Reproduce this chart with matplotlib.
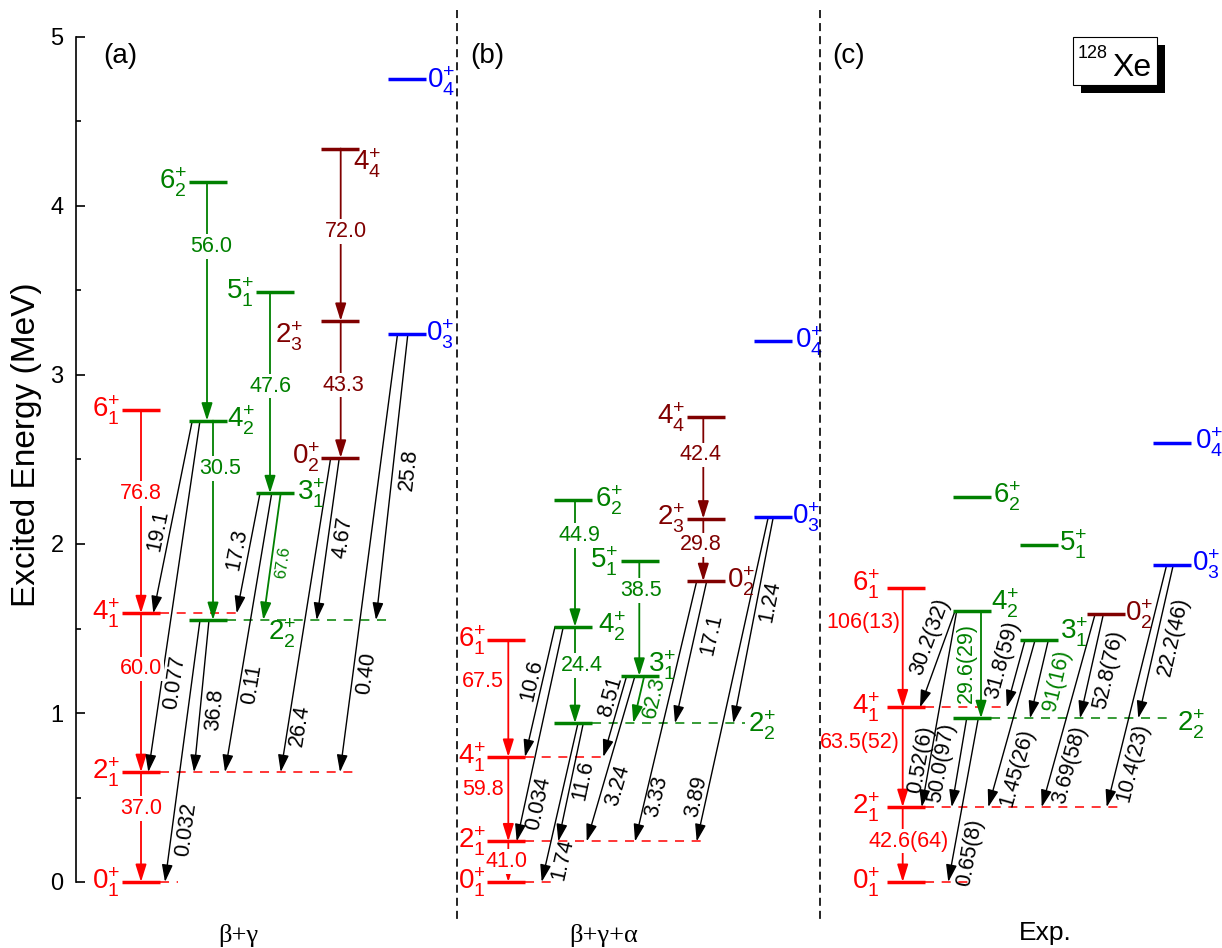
import numpy as np
import matplotlib
matplotlib.use("Agg")
import matplotlib.pyplot as plt
import matplotlib.transforms as mtransforms
from matplotlib.patches import FancyArrowPatch, ArrowStyle, Rectangle
from matplotlib.lines import Line2D
from matplotlib.ticker import MultipleLocator

plt.rcParams['font.family'] = ['Liberation Sans', 'DejaVu Sans']
plt.rcParams['mathtext.fontset'] = 'custom'
plt.rcParams['mathtext.rm'] = 'Liberation Sans'
plt.rcParams['mathtext.it'] = 'Liberation Sans:italic'
plt.rcParams['mathtext.bf'] = 'Liberation Sans:bold'
plt.rcParams['lines.scale_dashes'] = False

# ---------------------------------------------------------------- data
states = ['0_1', '2_1', '4_1', '6_1', '2_2', '3_1', '4_2', '5_1', '6_2',
          '0_2', '2_3', '4_4', '0_3', '0_4']

# excitation energies (MeV); None = level not shown
energy_a = [0.00, 0.65, 1.59, 2.79, 1.55, 2.30, 2.73, 3.49, 4.14,
            2.51, 3.32, 4.34, 3.24, 4.75]
energy_b = [0.00, 0.24, 0.74, 1.43, 0.94, 1.22, 1.51, 1.90, 2.26,
            1.78, 2.15, 2.75, 2.16, 3.20]
energy_c = [0.000, 0.443, 1.033, 1.737, 0.969, 1.430, 1.603, 1.996, 2.280,
            1.583, None, None, 1.877, 2.600]

# E2 transitions (initial, final) and B(E2) labels (W.u.)
trans_a = [('6_1', '4_1'), ('4_1', '2_1'), ('2_1', '0_1'),
           ('6_2', '4_2'), ('4_2', '2_2'), ('5_1', '3_1'), ('3_1', '2_2'),
           ('4_4', '2_3'), ('2_3', '0_2'),
           ('4_2', '4_1'), ('4_2', '2_1'), ('2_2', '2_1'), ('2_2', '0_1'),
           ('3_1', '4_1'), ('3_1', '2_1'), ('0_2', '2_2'), ('0_2', '2_1'),
           ('0_3', '2_2'), ('0_3', '2_1')]
be2_a = ['76.8', '60.0', '37.0', '56.0', '30.5', '47.6', '67.6', '72.0', '43.3',
         '19.1', '0.077', '36.8', '0.032', '17.3', '0.11', '4.67', '26.4',
         '25.8', '0.40']

trans_b = [('6_1', '4_1'), ('4_1', '2_1'), ('2_1', '0_1'),
           ('6_2', '4_2'), ('4_2', '2_2'), ('5_1', '3_1'), ('3_1', '2_2'),
           ('4_4', '2_3'), ('2_3', '0_2'),
           ('4_2', '4_1'), ('4_2', '2_1'), ('2_2', '2_1'), ('2_2', '0_1'),
           ('3_1', '4_1'), ('3_1', '2_1'), ('0_2', '2_2'), ('0_2', '2_1'),
           ('0_3', '2_2'), ('0_3', '2_1')]
be2_b = ['67.5', '59.8', '41.0', '44.9', '24.4', '38.5', '62.3', '42.4', '29.8',
         '10.6', '0.034', '11.6', '1.74', '8.51', '3.24', '17.1', '3.33',
         '1.24', '3.89']

trans_c = [('6_1', '4_1'), ('4_1', '2_1'), ('2_1', '0_1'), ('4_2', '2_2'),
           ('4_2', '4_1'), ('4_2', '2_1'), ('2_2', '2_1'), ('2_2', '0_1'),
           ('3_1', '4_1'), ('3_1', '2_1'), ('3_1', '2_2'),
           ('0_2', '2_2'), ('0_2', '2_1'), ('0_3', '2_2'), ('0_3', '2_1')]
be2_c = ['106(13)', '63.5(52)', '42.6(64)', '29.6(29)',
         '30.2(32)', '0.52(6)', '50.0(97)', '0.65(8)',
         '31.8(59)', '1.45(26)', '91(16)',
         '52.8(76)', '3.69(58)', '22.2(46)', '10.4(23)']

panel_titles = ['(a)', '(b)', '(c)']
model_names = ['\u03b2+\u03b3', '\u03b2+\u03b3+\u03b1', 'Exp.']

# ---------------------------------------------------------------- style / layout
W, H, DPI = 1222, 948, 100
PX_PER_MEV = 169.0
BAR_W = 38

RED, GREEN, DRED, BLUE = '#ff0000', '#008000', '#800000', '#0000ff'
band = {'0_1': 0, '2_1': 0, '4_1': 0, '6_1': 0,
        '2_2': 1, '3_1': 1, '4_2': 1, '5_1': 1, '6_2': 1,
        '0_2': 2, '2_3': 2, '4_4': 2,
        '0_3': 3, '0_4': 3}
band_color = [RED, GREEN, DRED, BLUE]
column = {'0_1': 0, '2_1': 0, '4_1': 0, '6_1': 0,
          '2_2': 1, '4_2': 1, '6_2': 1,
          '3_1': 2, '5_1': 2,
          '0_2': 3, '2_3': 3, '4_4': 3,
          '0_3': 4, '0_4': 4}

cols_a = [122, 189, 256, 321, 388]
cols_b = [487, 554, 621, 687, 754]
cols_c = [887, 953, 1020, 1087, 1153]

# level label placement: (ha, x offset from bar left [px], y offset [px, down])
lab_a = {'0_1': ('right', -2, 0), '2_1': ('right', -2, 0), '4_1': ('right', -2, 0),
         '6_1': ('right', -2, 0), '2_2': ('left', 79, 13), '3_1': ('left', 41, 0),
         '4_2': ('left', 38, 0), '5_1': ('right', -2, 0), '6_2': ('right', -2, 0),
         '0_2': ('right', -1, 0), '2_3': ('right', -18, 15), '4_4': ('left', 32, 15),
         '0_3': ('left', 38, 0), '0_4': ('left', 39, 2)}
lab_b = {'0_1': ('right', -1, 0), '2_1': ('right', -1, 0), '4_1': ('right', -1, 0),
         '6_1': ('right', -1, 0), '2_2': ('left', 194, 2), '3_1': ('left', 27, -10),
         '4_2': ('left', 44, 0), '5_1': ('right', -3, 0), '6_2': ('left', 41, 0),
         '0_2': ('left', 40, 0), '2_3': ('right', -2, 0), '4_4': ('right', -2, 0),
         '0_3': ('left', 38, 0), '0_4': ('left', 41, 0)}
lab_c = {'0_1': ('right', -7, 0), '2_1': ('right', -7, 0), '4_1': ('right', -7, 0),
         '6_1': ('right', -7, -4), '2_2': ('left', 224, 6), '3_1': ('left', 40, -8),
         '4_2': ('left', 38, -8), '5_1': ('left', 39, 0), '6_2': ('left', 40, 0),
         '0_2': ('left', 38, 0), '0_3': ('left', 39, 0), '0_4': ('left', 42, 0)}

# dashed guide lines extending the levels that receive the cross-band arrows
dash_a = {'0_1': 178, '2_1': 355, '4_1': 240, '2_2': 390}
dash_b = {'0_1': 558, '2_1': 702, '4_1': 605, '2_2': 745}
dash_c = {'0_1': 970, '2_1': 1118, '4_1': 1008, '2_2': 1170}

# arrow geometry: (x start, x end, label position along arrow, label x shift, label mode)
geom_a = [(141, 141, 0.41, 0, 'box'), (141, 141, 0.35, 0, 'box'), (141, 141, 0.33, 0, 'box'),
          (207, 207, 0.27, 4, 'box'), (213, 213, 0.24, 7, 'box'),
          (270, 270, 0.467, 1, 'box'), (280.7, 263.3, 0.547, 11.5, 'along'),
          (340.7, 340.7, 0.48, 5, 'box'), (340.7, 340.7, 0.47, 3, 'box'),
          (192.3, 153.3, 0.57, -12, 'along'), (200, 148.3, 0.745, 13.5, 'along'),
          (209, 194, 0.59, 15, 'along'), (200, 165, 0.80, 14.7, 'along'),
          (260, 236.7, 0.47, -12.3, 'along'), (271.7, 225, 0.685, 12, 'along'),
          (339.3, 316.7, 0.49, 15, 'along'), (330.7, 280.7, 0.85, 12, 'along'),
          (407.8, 376, 0.473, 16, 'along'), (397.5, 340, 0.775, 13, 'along')]
geom_b = [(508.3, 508.3, 0.354, -25, 'flat'), (508.3, 508.3, 0.39, -25, 'flat'),
          (508.3, 508.3, 0.5, -1.6, 'box'),
          (575, 575, 0.28, 4, 'box'), (575, 575, 0.40, 6.7, 'box'),
          (639.3, 639.3, 0.256, 1.4, 'box'), (644.3, 633.3, 0.45, 15, 'along'),
          (703.3, 703.3, 0.37, -3, 'box'), (703.3, 703.3, 0.42, -3, 'box'),
          (555, 525, 0.41, -11, 'along'), (563.3, 516.7, 0.824, 13.4, 'along'),
          (583.3, 558.3, 0.48, 12, 'along'), (578, 541.7, 0.857, 16, 'along'),
          (626.7, 603.3, 0.26, -10, 'along'), (635, 586.7, 0.663, 15, 'along'),
          (706.7, 675, 0.376, 17, 'along'), (696.7, 635, 0.829, 11, 'along'),
          (773.3, 733.3, 0.41, 13, 'along'), (768.3, 696.7, 0.863, -10, 'along')]
geom_c = [(902.7, 902.7, 0.29, -39.4, 'flat'), (902.7, 902.7, 0.35, -42.7, 'flat'),
          (902.7, 902.7, 0.456, 5.6, 'box'), (981, 981, 0.48, -14.3, 'along'),
          (955, 920, 0.264, -15.8, 'along'), (956.7, 921.7, 0.757, -9, 'along'),
          (966.7, 951.7, 0.5, -17.5, 'along'), (978.3, 948.3, 0.822, 16.4, 'along'),
          (1025, 1006.7, 0.285, -17, 'along'), (1035, 988.3, 0.764, 17.4, 'along'),
          (1048.3, 1030, 0.51, 17.8, 'along'),
          (1103.3, 1080, 0.53, 17.3, 'along'), (1095, 1041.7, 0.78, 16.6, 'along'),
          (1173.3, 1138.3, 0.466, 16.3, 'along'), (1166.7, 1106.7, 0.817, 15.6, 'along')]

black_arrows_c = {('3_1', '2_2')}
small_labels_a = {('3_1', '2_2')}

LEVEL_FS = 20
TRANS_FS = 15.5

# ---------------------------------------------------------------- figure
fig = plt.figure(figsize=(W / DPI, H / DPI), dpi=DPI)
pix = mtransforms.Affine2D().scale(1.0 / W, -1.0 / H).translate(0, 1) + fig.transFigure

ax = fig.add_axes([76 / W, (H - 882) / H, (W - 76) / W, 845 / H])
ax.set_xlim(76, W)
ax.set_ylim(0, 5)
ax.patch.set_visible(False)
for s in ['top', 'right', 'bottom']:
    ax.spines[s].set_visible(False)
ax.spines['left'].set_linewidth(1.2)
ax.set_xticks([])
ax.set_yticks(range(6))
ax.yaxis.set_minor_locator(MultipleLocator(0.5))
ax.tick_params(axis='y', which='major', direction='in', length=6.5, width=1.2,
               labelsize=17, pad=9)
ax.tick_params(axis='y', which='minor', direction='in', length=3.5, width=1.2)


def level_tex(s):
    j, n = s.split('_')
    return r'$%s^{+}_{%s}$' % (j, n)


def draw_panel(energies, cols, labels, dashes, trans, values, geom,
               black_set=frozenset(), small_set=frozenset()):
    E = {s: e for s, e in zip(states, energies) if e is not None}

    for s, xend in dashes.items():
        xs = cols[column[s]] + BAR_W
        ax.plot([xs, xend], [E[s], E[s]], color=band_color[band[s]], lw=1.1,
                dashes=(6.5, 5.5), zorder=1, clip_on=False)

    for (si, sf), val, (x0, x1, t, dx, mode) in zip(trans, values, geom):
        e0, e1 = E[si], E[sf]
        same = band[si] == band[sf]
        lcol = band_color[band[si]] if same else 'black'
        acol = 'black' if (si, sf) in black_set else lcol
        lw = 1.3 if acol != 'black' else 1.0
        arr = FancyArrowPatch((x0, e0), (x1, e1),
                              arrowstyle=ArrowStyle('-|>', head_length=10.5, head_width=3.3),
                              mutation_scale=1, color=acol, lw=lw,
                              shrinkA=0, shrinkB=0, zorder=2, clip_on=False)
        ax.add_patch(arr)
        xl = x0 + t * (x1 - x0) + dx
        yl = e0 + t * (e1 - e0)
        fs = 12 if (si, sf) in small_set else TRANS_FS
        if mode == 'along':
            p0 = ax.transData.transform((x0, e0))
            p1 = ax.transData.transform((x1, e1))
            ang = np.degrees(np.arctan2(p0[1] - p1[1], p0[0] - p1[0]))
            ax.text(xl, yl, val, rotation=ang, rotation_mode='anchor',
                    ha='center', va='center', color=lcol, fontsize=fs, zorder=4)
        elif mode == 'flat':
            ax.text(xl, yl, val, ha='center', va='center', color=lcol,
                    fontsize=fs, zorder=4)
        else:
            ax.text(xl, yl, val, ha='center', va='center', color=lcol,
                    fontsize=fs, zorder=5,
                    bbox=dict(boxstyle='square,pad=0.08', fc='white', ec='none'))

    for s, e in E.items():
        xb = cols[column[s]]
        c = band_color[band[s]]
        ax.plot([xb, xb + BAR_W], [e, e], color=c, lw=2.5, solid_capstyle='butt',
                zorder=3, clip_on=False)
        ha, xr, dy = labels[s]
        ax.text(xb + xr, e - dy / PX_PER_MEV, level_tex(s), ha=ha, va='center',
                color=c, fontsize=LEVEL_FS, zorder=4, clip_on=False)


draw_panel(energy_a, cols_a, lab_a, dash_a, trans_a, be2_a, geom_a,
           small_set=small_labels_a)
draw_panel(energy_b, cols_b, lab_b, dash_b, trans_b, be2_b, geom_b)
draw_panel(energy_c, cols_c, lab_c, dash_c, trans_c, be2_c, geom_c,
           black_set=black_arrows_c)

# panel separators
for xs in (457, 820):
    fig.add_artist(Line2D([xs, xs], [10, 920], transform=pix, color='black',
                          lw=1.2, dashes=(5.8, 3.6)))

# panel tags and model names
for (x, y), txt in zip([(120, 56), (487, 56), (849, 56)], panel_titles):
    fig.text(x, y, txt, transform=pix, ha='center', va='center', fontsize=20)
for (x, y), txt, fam in zip([(238, 936), (604, 936), (1045, 933)], model_names,
                            ['Liberation Serif', 'Liberation Serif', 'Liberation Sans']):
    fig.text(x, y, txt, transform=pix, ha='center', va='center', fontsize=19,
             family=fam)

# y-axis title
fig.text(27, 445, 'Excited Energy (MeV)', transform=pix, rotation=90,
         ha='center', va='center', fontsize=24)

# nucleus tag with drop shadow
fig.add_artist(Rectangle((1080.5, 45.0), 84.5, 47.7, transform=pix,
                         fc='black', ec='none'))
fig.add_artist(Rectangle((1072.7, 37.3), 84.0, 47.7, transform=pix,
                         fc='white', ec='black', lw=0.8))
fig.text(1078, 58.3, '128', transform=pix, ha='left', va='baseline', fontsize=13)
fig.text(1112, 75.5, 'Xe', transform=pix, ha='left', va='baseline', fontsize=23)

fig.savefig('out.png', dpi=DPI)
